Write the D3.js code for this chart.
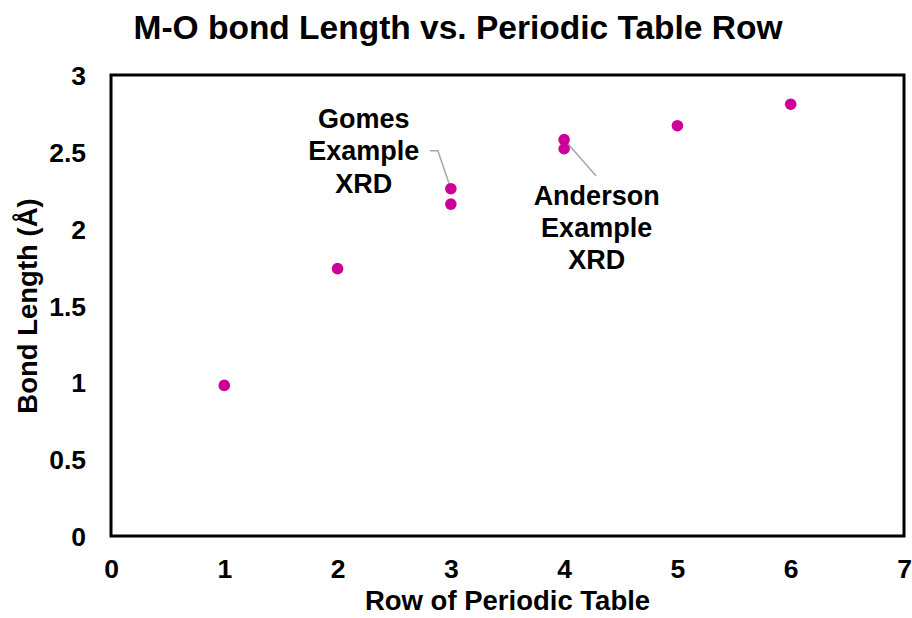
<!DOCTYPE html>
<html>
<head>
<meta charset="utf-8">
<style>
  body {
    margin: 0;
    background: #fff
  }
  text {
    font-family: Arial, "Liberation Sans", sans-serif;
    font-weight: bold;
    fill: #000
  }
</style>
<script type="text/javascript" src="https://cdn.jsdelivr.net/npm/d3@7"></script>
</head>
<body>
<svg id="chart"></svg>
<script type="text/javascript">
let width = 912,
    height = 618

// data
let rows    = [1, 2, 3, 3, 4, 4, 5, 6]
let lengths = [0.98, 1.74, 2.26, 2.16, 2.58, 2.52, 2.67, 2.81]
let xTicks = [0, 1, 2, 3, 4, 5, 6, 7]
let yTicks = [0, 0.5, 1, 1.5, 2, 2.5, 3]

// annotation: label lines and the point it points to
let gomesLines = ['Gomes', 'Example', 'XRD']
let gomesPoint = [3, 2.26]
let andersonLines = ['Anderson', 'Example', 'XRD']
let andersonPoint = [4, 2.58]

let plot = {left: 111, right: 904, top: 75, bottom: 536}

let x = d3.scaleLinear().domain([0, 7]).range([plot.left, plot.right])
let y = d3.scaleLinear().domain([0, 3]).range([plot.bottom, plot.top])

let svg = d3.select('#chart')
    .attr('width', width)
    .attr('height', height)

// title
svg.append('text')
   .attr('x', 458)
   .attr('y', 39)
   .attr('text-anchor', 'middle')
   .style('font-size', '33.5px')
   .text('M-O bond Length vs. Periodic Table Row')

// axes (labels only, no tick marks)
let xAxis = svg.append('g')
   .attr('transform', 'translate(0,' + plot.bottom + ')')
   .call(d3.axisBottom(x).tickValues(xTicks).tickSize(0).tickPadding(0).tickFormat(d3.format('d')))
xAxis.select('.domain').remove()
xAxis.selectAll('text')
   .attr('dy', null)
   .attr('y', 42)
   .style('font-size', '26.5px')
   .style('font-family', 'Arial, "Liberation Sans", sans-serif')

let yAxis = svg.append('g')
   .attr('transform', 'translate(' + plot.left + ',0)')
   .call(d3.axisLeft(y).tickValues(yTicks).tickSize(0).tickPadding(25).tickFormat(d => d))
yAxis.select('.domain').remove()
yAxis.selectAll('text')
   .attr('dy', '0.36em')
   .style('font-size', '26.5px')
   .style('font-family', 'Arial, "Liberation Sans", sans-serif')

// plot box
svg.append('rect')
   .attr('x', plot.left)
   .attr('y', plot.top)
   .attr('width', plot.right - plot.left)
   .attr('height', plot.bottom - plot.top)
   .attr('fill', 'none')
   .attr('stroke', '#000')
   .attr('stroke-width', 3)

// axis titles
svg.append('text')
   .attr('x', (plot.left + plot.right) / 2)
   .attr('y', 610)
   .attr('text-anchor', 'middle')
   .style('font-size', '27.5px')
   .text('Row of Periodic Table')

svg.append('text')
   .attr('transform', 'translate(37,' + 306 + ') rotate(-90)')
   .attr('text-anchor', 'middle')
   .style('font-size', '27.5px')
   .text('Bond Length (Å)')

// leader lines
let gx = x(gomesPoint[0]), gy = y(gomesPoint[1])
svg.append('path')
   .attr('d', 'M' + (gx - 21) + ',' + (gy - 38) + 'H' + (gx - 13) + 'L' + gx + ',' + gy)
   .attr('fill', 'none')
   .attr('stroke', '#a6a6a6')
   .attr('stroke-width', 1.5)

let ax = x(andersonPoint[0]), ay = y(andersonPoint[1])
svg.append('line')
   .attr('x1', ax).attr('y1', ay)
   .attr('x2', ax + 32).attr('y2', ay + 36.5)
   .attr('stroke', '#a6a6a6')
   .attr('stroke-width', 1.5)

// points
svg.selectAll('circle')
   .data(rows)
   .enter()
   .append('circle')
   .attr('cx', d => x(d))
   .attr('cy', (d, i) => y(lengths[i]))
   .attr('r', 5.8)
   .attr('fill', '#cc0099')

// annotation text
svg.append('text')
   .attr('text-anchor', 'middle')
   .style('font-size', '27px')
   .selectAll('tspan')
   .data(gomesLines)
   .enter()
   .append('tspan')
   .attr('x', gx - 87)
   .attr('y', (d, i) => gy - 61 + i * 32.5)
   .text(d => d)

svg.append('text')
   .attr('text-anchor', 'middle')
   .style('font-size', '27px')
   .selectAll('tspan')
   .data(andersonLines)
   .enter()
   .append('tspan')
   .attr('x', ax + 32.5)
   .attr('y', (d, i) => ay + 65.5 + i * 32)
   .text(d => d)
</script>
</body>
</html>
